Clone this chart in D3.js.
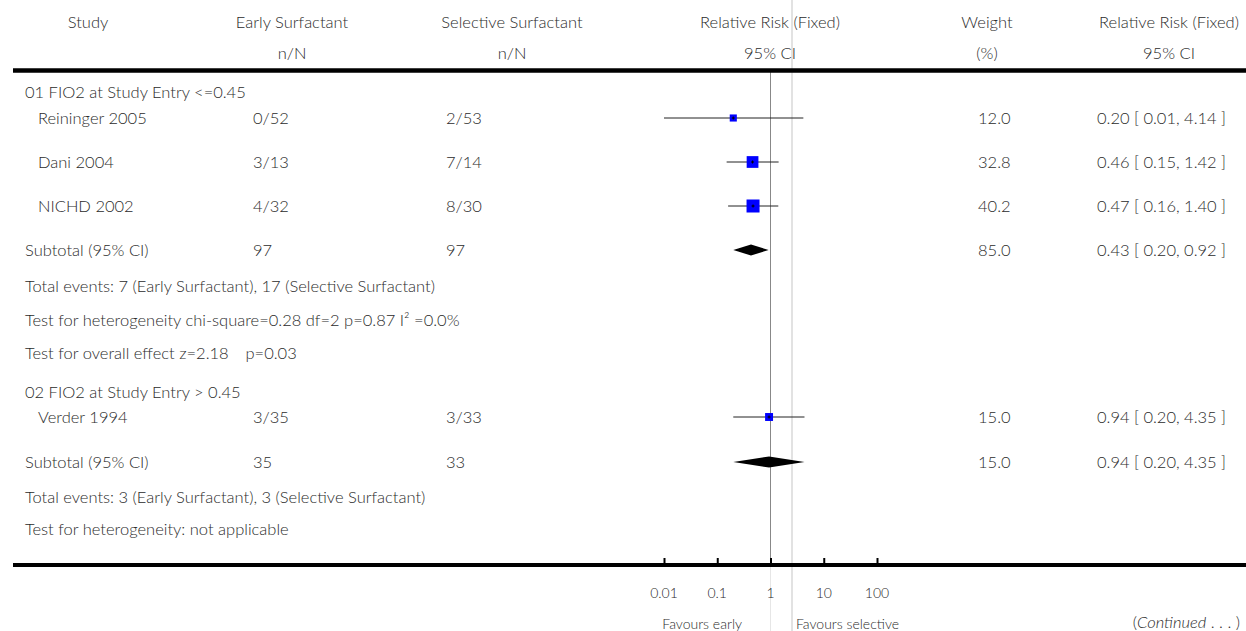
<!DOCTYPE html>
<html>
<head>
<meta charset="utf-8">
<script src="https://cdn.jsdelivr.net/npm/d3@7"></script>
<style>
  body { margin: 0; background: #fff; }
  text { font-family: Lato, "Open Sans", sans-serif; font-size: 16.5px; font-weight: 300; fill: #2b2b2b; }
</style>
</head>
<body>
<div id="forest"></div>
<script>
// study level data
const studies = ["Reininger 2005", "Dani 2004", "NICHD 2002", "Verder 1994"];
const earlyNN = ["0/52", "3/13", "4/32", "3/35"];
const selectiveNN = ["2/53", "7/14", "8/30", "3/33"];
const rr = [0.20, 0.46, 0.47, 0.94];
const rrLow = [0.01, 0.15, 0.16, 0.20];
const rrHigh = [4.14, 1.42, 1.40, 4.35];
const weight = [12.0, 32.8, 40.2, 15.0];

// subgroup totals
const groups = ["01 FIO2 at Study Entry <=0.45", "02 FIO2 at Study Entry > 0.45"];
const subEarlyN = [97, 35];
const subSelectiveN = [97, 33];
const subRR = [0.43, 0.94];
const subLow = [0.20, 0.20];
const subHigh = [0.92, 4.35];
const subWeight = [85.0, 15.0];
const groupNotes = [
    ["Total events: 7 (Early Surfactant), 17 (Selective Surfactant)",
     "Test for heterogeneity chi-square=0.28 df=2 p=0.87 I\u00b2 =0.0%",
     "Test for overall effect z=2.18\u2003 p=0.03"],
    ["Total events: 3 (Early Surfactant), 3 (Selective Surfactant)",
     "Test for heterogeneity: not applicable"]
];

const ticks = [0.01, 0.1, 1, 10, 100];
const tickLabels = ["0.01", "0.1", "1", "10", "100"];

let width = 1246, height = 631;

let svg = d3.select("#forest").append("svg")
    .attr("width", width)
    .attr("height", height);

let x = d3.scaleLog()
    .domain([0.01, 100])
    .range([664, 877]);

let fmt2 = d3.format(".2f");
let fmt1 = d3.format(".1f");

// column positions
let col = {study: 38, group: 25, early: 253, sel: 446, weight: 978, ci: 1097};

// row layout (y centres)
let studyY = [118, 162, 206, 417];
let groupY = [92, 392];
let subY = [250, 462];
let noteY = [[286, 320, 353], [497, 529]];
let axisY = 565;
let dy = 6;

// reference lines
svg.append("line")
    .attr("x1", 792).attr("x2", 792).attr("y1", 0).attr("y2", height)
    .attr("stroke", "#d9d9d9").attr("stroke-width", 1.5);
svg.append("line")
    .attr("x1", x(1)).attr("x2", x(1)).attr("y1", axisY).attr("y2", height)
    .attr("stroke", "#e6e6e6").attr("stroke-width", 1);
svg.append("line")
    .attr("x1", x(1)).attr("x2", x(1)).attr("y1", 72).attr("y2", axisY)
    .attr("stroke", "#888").attr("stroke-width", 1);

// header
let head = svg.append("g");
let headCols = [
    [88, "Study", ""],
    [292, "Early Surfactant", "n/N"],
    [512, "Selective Surfactant", "n/N"],
    [770, "Relative Risk (Fixed)", "95% CI"],
    [987, "Weight", "(%)"],
    [1169, "Relative Risk (Fixed)", "95% CI"]
];
headCols.forEach((h) => {
    head.append("text").attr("x", h[0]).attr("y", 22 + dy).attr("text-anchor", "middle").text(h[1]);
    head.append("text").attr("x", h[0]).attr("y", 53 + dy).attr("text-anchor", "middle").text(h[2]);
});

svg.append("line")
    .attr("x1", 13).attr("x2", width).attr("y1", 70.5).attr("y2", 70.5)
    .attr("stroke", "#000").attr("stroke-width", 4.5);

// group labels and notes
groups.forEach((g, i) => {
    svg.append("text").attr("x", col.group).attr("y", groupY[i] + dy).text(g);
    groupNotes[i].forEach((n, j) => {
        svg.append("text").attr("x", col.group).attr("y", noteY[i][j] + dy).text(n);
    });
});

// study rows
let rows = svg.selectAll(".study")
    .data(studies.map((s, i) => ({name: s, i: i})))
    .enter()
    .append("g")
    .attr("class", "study");

rows.append("text").attr("x", col.study).attr("y", (d) => studyY[d.i] + dy).text((d) => d.name);
rows.append("text").attr("x", col.early).attr("y", (d) => studyY[d.i] + dy).text((d) => earlyNN[d.i]);
rows.append("text").attr("x", col.sel).attr("y", (d) => studyY[d.i] + dy).text((d) => selectiveNN[d.i]);
rows.append("text").attr("x", col.weight).attr("y", (d) => studyY[d.i] + dy).text((d) => fmt1(weight[d.i]));
rows.append("text").attr("x", col.ci).attr("y", (d) => studyY[d.i] + dy)
    .text((d) => fmt2(rr[d.i]) + " [ " + fmt2(rrLow[d.i]) + ", " + fmt2(rrHigh[d.i]) + " ]");

rows.append("line")
    .attr("x1", (d) => x(rrLow[d.i]))
    .attr("x2", (d) => x(rrHigh[d.i]))
    .attr("y1", (d) => studyY[d.i])
    .attr("y2", (d) => studyY[d.i])
    .attr("stroke", "#222").attr("stroke-width", 1);

// box side proportional to sqrt(weight)
let side = (w) => 2.05 * Math.sqrt(w);
rows.append("rect")
    .attr("x", (d) => x(rr[d.i]) - side(weight[d.i]) / 2)
    .attr("y", (d) => studyY[d.i] - side(weight[d.i]) / 2)
    .attr("width", (d) => side(weight[d.i]))
    .attr("height", (d) => side(weight[d.i]))
    .attr("fill", "#0000ff");

rows.append("path")
    .attr("d", (d) => {
        let cx = x(rr[d.i]), cy = studyY[d.i];
        return "M" + (cx - 1.5) + "," + cy + "H" + (cx + 1.5) + "M" + cx + "," + (cy - 1.5) + "V" + (cy + 1.5);
    })
    .attr("stroke", "#000").attr("stroke-width", 1);

// subtotal rows
subY.forEach((y, i) => {
    svg.append("text").attr("x", col.group).attr("y", y + dy).text("Subtotal (95% CI)");
    svg.append("text").attr("x", col.early).attr("y", y + dy).text(subEarlyN[i]);
    svg.append("text").attr("x", col.sel).attr("y", y + dy).text(subSelectiveN[i]);
    svg.append("text").attr("x", col.weight).attr("y", y + dy).text(fmt1(subWeight[i]));
    svg.append("text").attr("x", col.ci).attr("y", y + dy)
        .text(fmt2(subRR[i]) + " [ " + fmt2(subLow[i]) + ", " + fmt2(subHigh[i]) + " ]");
    svg.append("path")
        .attr("d", "M" + x(subLow[i]) + "," + y + "L" + x(subRR[i]) + "," + (y - 5.5) +
            "L" + x(subHigh[i]) + "," + y + "L" + x(subRR[i]) + "," + (y + 5.5) + "Z")
        .attr("fill", "#000");
});

// bottom axis
svg.append("line")
    .attr("x1", 13).attr("x2", width).attr("y1", axisY).attr("y2", axisY)
    .attr("stroke", "#000").attr("stroke-width", 4);

let axis = svg.append("g")
    .attr("transform", "translate(0," + (axisY - 2) + ")")
    .call(d3.axisTop(x).tickValues(ticks).tickSize(5).tickFormat(""));
axis.select(".domain").remove();
axis.selectAll("line").attr("stroke", "#000").attr("stroke-width", 2);

svg.selectAll(".ticklab")
    .data(ticks)
    .enter()
    .append("text")
    .attr("class", "ticklab")
    .attr("x", (d) => x(d))
    .attr("y", 598)
    .attr("text-anchor", "middle")
    .style("font-size", "14px")
    .text((d, i) => tickLabels[i]);

svg.append("text").attr("x", 742).attr("y", 629).attr("text-anchor", "end")
    .style("font-size", "14px").text("Favours early");
svg.append("text").attr("x", 796).attr("y", 629)
    .style("font-size", "14px").text("Favours selective");

let cont = svg.append("text").attr("x", 1240).attr("y", 628).attr("text-anchor", "end");
cont.append("tspan").text("(");
cont.append("tspan").style("font-style", "italic").text("Continued");
cont.append("tspan").text(" . . . )");
</script>
</body>
</html>
